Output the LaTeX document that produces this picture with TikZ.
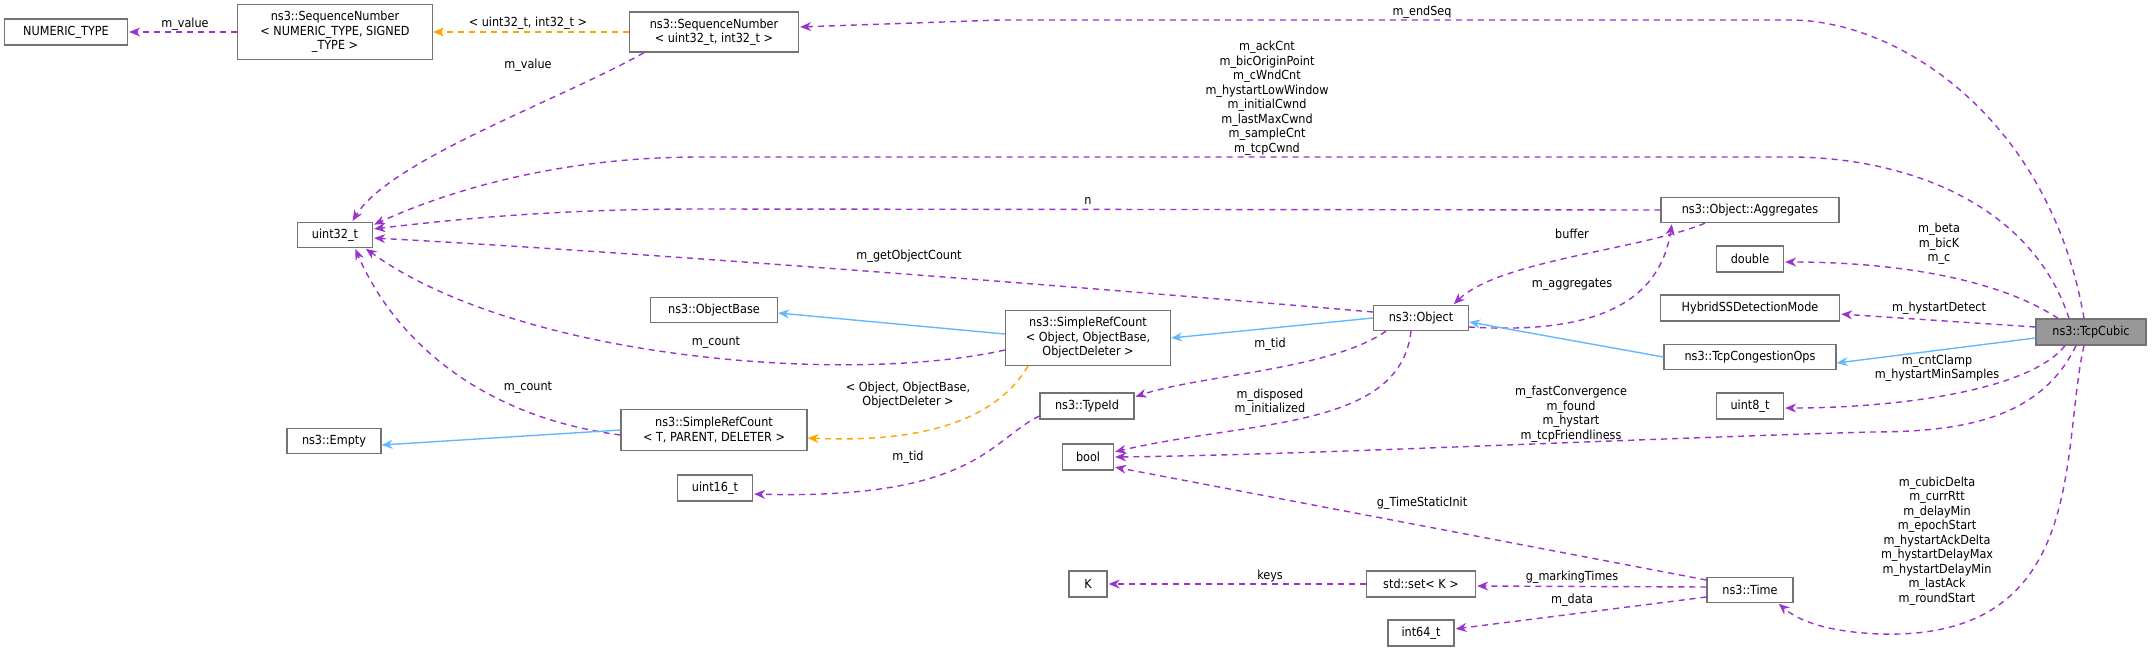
\documentclass[tikz,border=0pt]{standalone}
\usepackage{fontspec}
\setmainfont{DejaVu Sans Condensed}
\usetikzlibrary{arrows.meta}
\definecolor{pur}{HTML}{9A32CD}
\definecolor{org}{HTML}{FFA500}
\definecolor{blu}{HTML}{63B8FF}
\begin{document}
\begin{tikzpicture}[x=1pt,y=-1pt,
  box/.style={draw=black!55,line width=1.3pt,fill=white,inner sep=1pt,align=center,font=\fontsize{12.5}{14.5}\selectfont},
  lbl/.style={inner sep=0pt,align=center,font=\fontsize{12.5}{14.5}\selectfont},
  use/.style={draw=pur,line width=1.4pt,dash pattern=on 6pt off 5pt,-{Stealth[length=11pt,width=9pt]},shorten >=1pt},
  tmpl/.style={draw=org,line width=1.4pt,dash pattern=on 6pt off 5pt,-{Stealth[length=11pt,width=9pt]}},
  inh/.style={draw=blu,line width=1.4pt,-{Stealth[length=11pt,width=9pt]}}]
\useasboundingbox (0,0) rectangle (2152,651);
% nodes
\node[box,minimum width=123pt,minimum height=26pt] (nt) at (66,32) {NUMERIC\_TYPE};
\node[box,minimum width=195pt,minimum height=55pt] (snt) at (335,32) {ns3::SequenceNumber\\< NUMERIC\_TYPE, SIGNED\\\_TYPE >};
\node[box,minimum width=169pt,minimum height=40pt] (su) at (714,32) {ns3::SequenceNumber\\< uint32\_t, int32\_t >};
\node[box,minimum width=75pt,minimum height=25pt] (u32) at (335,235) {uint32\_t};
\node[box,minimum width=178pt,minimum height=25pt] (agg) at (1750,210) {ns3::Object::Aggregates};
\node[box,minimum width=67pt,minimum height=26pt] (dbl) at (1750,259) {double};
\node[box,minimum width=179pt,minimum height=26pt] (hyb) at (1750,308) {HybridSSDetectionMode};
\node[box,minimum width=95pt,minimum height=25pt] (obj) at (1421,318) {ns3::Object};
\node[box,minimum width=165pt,minimum height=55pt] (sro) at (1088,338) {ns3::SimpleRefCount\\< Object, ObjectBase,\\ObjectDeleter >};
\node[box,fill=black!40,minimum width=110pt,minimum height=26pt] (tc) at (2091,332) {ns3::TcpCubic};
\node[box,minimum width=172pt,minimum height=25pt] (tco) at (1750,357) {ns3::TcpCongestionOps};
\node[box,minimum width=94pt,minimum height=26pt] (tid) at (1087,406) {ns3::TypeId};
\node[box,minimum width=67pt,minimum height=26pt] (u8) at (1750,406) {uint8\_t};
\node[box,minimum width=51pt,minimum height=26pt] (bool) at (1088,457) {bool};
\node[box,minimum width=127pt,minimum height=25pt] (ob) at (714,310) {ns3::ObjectBase};
\node[box,minimum width=186pt,minimum height=41pt] (srt) at (714,430) {ns3::SimpleRefCount\\< T, PARENT, DELETER >};
\node[box,minimum width=94pt,minimum height=25pt] (emp) at (334,441) {ns3::Empty};
\node[box,minimum width=75pt,minimum height=26pt] (u16) at (715,488) {uint16\_t};
\node[box,minimum width=38pt,minimum height=26pt] (k) at (1088,584) {K};
\node[box,minimum width=109pt,minimum height=26pt] (set) at (1421,584) {std::set< K >};
\node[box,minimum width=86pt,minimum height=25pt] (time) at (1750,590) {ns3::Time};
\node[box,minimum width=66pt,minimum height=26pt] (i64) at (1421,633) {int64\_t};
% labels
\node[lbl] (l1) at (185,24) {m\_value};
\node[lbl] (l2) at (528,23) {< uint32\_t, int32\_t >};
\node[lbl] (l3) at (528,65) {m\_value};
\node[lbl] (l4) at (1422,12) {m\_endSeq};
\node[lbl] (l5) at (1267,98) {m\_ackCnt\\m\_bicOriginPoint\\m\_cWndCnt\\m\_hystartLowWindow\\m\_initialCwnd\\m\_lastMaxCwnd\\m\_sampleCnt\\m\_tcpCwnd};
\node[lbl] (l6) at (1088,201) {n};
\node[lbl] (l7) at (909,256) {m\_getObjectCount};
\node[lbl] (l8) at (1572,234) {buffer};
\node[lbl] (l9) at (1572,285) {m\_aggregates};
\node[lbl] (l10) at (1939,244) {m\_beta\\m\_bicK\\m\_c};
\node[lbl] (l11) at (1939,308) {m\_hystartDetect};
\node[lbl] (l12) at (716,343) {m\_count};
\node[lbl] (l13) at (528,388) {m\_count};
\node[lbl] (l14) at (908,395) {< Object, ObjectBase,\\ObjectDeleter >};
\node[lbl] (l15) at (1270,344) {m\_tid};
\node[lbl] (l16) at (908,457) {m\_tid};
\node[lbl] (l17) at (1270,402) {m\_disposed\\m\_initialized};
\node[lbl] (l18) at (1937,368) {m\_cntClamp\\m\_hystartMinSamples};
\node[lbl] (l19) at (1571,414) {m\_fastConvergence\\m\_found\\m\_hystart\\m\_tcpFriendliness};
\node[lbl] (l20) at (1422,503) {g\_TimeStaticInit};
\node[lbl] (l21) at (1270,576) {keys};
\node[lbl] (l22) at (1572,577) {g\_markingTimes};
\node[lbl] (l23) at (1572,600) {m\_data};
\node[lbl] (l24) at (1937,541) {m\_cubicDelta\\m\_currRtt\\m\_delayMin\\m\_epochStart\\m\_hystartAckDelta\\m\_hystartDelayMax\\m\_hystartDelayMin\\m\_lastAck\\m\_roundStart};
% edges
\draw[use] (snt.west) -- (nt.east);
\draw[tmpl] (su.west) -- (snt.east);
\draw[use] ([xshift=-70pt]su.south) .. controls (560,100) and (390,160) .. ([xshift=17pt]u32.north);
\draw[use] ([xshift=-7pt]tc.north) .. controls (2050,120) and (1900,20) .. (1790,20) -- (1000,20) -- ([yshift=5pt]su.east);
\draw[use] ([xshift=-22pt]tc.north) .. controls (2030,200) and (1900,157) .. (1790,157) -- (700,157) .. controls (560,157) and (450,190) .. ([yshift=10pt]u32.east);
\draw[use] (agg.west) -- (700,209) .. controls (550,209) and (450,220) .. ([yshift=6pt]u32.east);
\draw[use] ([yshift=6pt]obj.west) .. controls (1000,280) and (600,250) .. ([yshift=-3pt]u32.east);
\draw[use] ([yshift=-12pt]sro.west) .. controls (850,385) and (520,360) .. ([xshift=30pt]u32.south);
\draw[use] ([yshift=-5pt]srt.west) .. controls (470,415) and (390,330) .. ([xshift=20pt]u32.south);
\draw[inh] ([yshift=4pt]sro.west) -- ([yshift=-3pt]ob.east);
\draw[inh] (obj.west) -- (sro.east);
\draw[tmpl] ([xshift=-60pt]sro.south) .. controls (990,430) and (900,442) .. ([yshift=-8pt]srt.east);
\draw[inh] (srt.west) -- ([yshift=-4pt]emp.east);
\draw[use] ([xshift=-45pt]agg.south) .. controls (1640,250) and (1500,260) .. ([xshift=32pt]obj.north);
\draw[use] ([yshift=-9pt]obj.east) .. controls (1600,335) and (1660,300) .. ([xshift=-78pt]agg.south);
\draw[use] ([xshift=-33pt]tc.north) .. controls (2000,280) and (1900,262) .. ([yshift=-3pt]dbl.east);
\draw[use] ([yshift=5pt]tc.west) -- ([yshift=-6pt]hyb.east);
\draw[inh] ([yshift=-6pt]tc.west) -- ([yshift=-6pt]tco.east);
\draw[inh] (tco.west) -- ([yshift=-4pt]obj.east);
\draw[use] ([xshift=-26pt]tc.south) .. controls (2030,390) and (1900,408) .. ([yshift=-2pt]u8.east);
\draw[use] ([xshift=-15pt]tc.south) .. controls (2040,420) and (1960,432) .. (1870,432) .. controls (1600,440) and (1300,455) .. (bool.east);
\draw[use] ([xshift=-10pt]obj.south) .. controls (1400,430) and (1250,420) .. ([yshift=5pt]bool.east);
\draw[use] ([xshift=-35pt]obj.south) .. controls (1330,370) and (1200,375) .. ([yshift=9pt]tid.east);
\draw[use] ([yshift=-10pt]tid.west) .. controls (990,440) and (975,500) .. ([yshift=-6pt]u16.east);
\draw[use] ([yshift=10pt]time.west) -- ([yshift=-10pt]bool.east);
\draw[use] ([yshift=3pt]time.west) -- ([yshift=-2pt]set.east);
\draw[use] (set.west) -- (k.east);
\draw[use] ([yshift=-7pt]time.west) -- ([yshift=4pt]i64.east);
\draw[use] ([xshift=-7pt]tc.south) .. controls (2060,450) and (2090,640) .. (1880,634) .. controls (1830,632) and (1800,622) .. ([xshift=28pt]time.south);
\end{tikzpicture}
\end{document}
